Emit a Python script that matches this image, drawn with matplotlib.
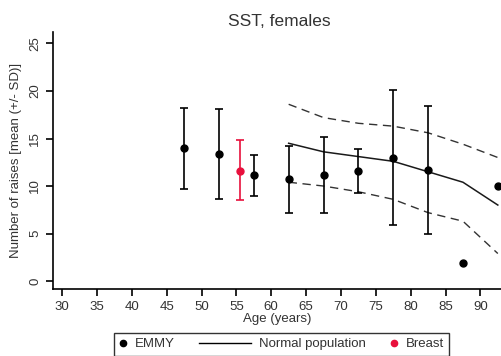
import numpy as np
import matplotlib
matplotlib.use('Agg')
import matplotlib.pyplot as plt
from matplotlib.legend_handler import HandlerLine2D

plt.rcParams['font.family'] = ['Liberation Sans', 'DejaVu Sans']

# EMMY group means and SD limits
emmy_age = [47.5, 52.5, 57.5, 62.5, 67.5, 72.5, 77.5, 82.5]
emmy_mean = [14.0, 13.4, 11.2, 10.7, 11.2, 11.6, 13.0, 11.7]
emmy_upper = [18.2, 18.1, 13.3, 14.2, 15.2, 13.9, 20.1, 18.4]
emmy_lower = [9.7, 8.6, 8.9, 7.2, 7.2, 9.3, 5.9, 5.0]

# single observations (no SD)
single_age = [87.5, 92.5]
single_val = [1.9, 10.0]

# Breast group
breast_age = [55.5]
breast_mean = [11.6]
breast_upper = [14.8]
breast_lower = [8.5]

# normal population mean and +/- SD
norm_age = [62.5, 67.5, 72.5, 77.5, 82.5, 87.5, 92.5]
norm_mean = [14.5, 13.6, 13.1, 12.6, 11.5, 10.4, 8.0]
norm_upper = [18.6, 17.2, 16.6, 16.3, 15.6, 14.4, 13.0]
norm_lower = [10.4, 10.0, 9.4, 8.6, 7.2, 6.3, 2.9]


class HandlerDot(HandlerLine2D):
    # narrow handle box so the dot sits close to its label
    def legend_artist(self, legend, orig_handle, fontsize, handlebox):
        handlebox.width = 0.6 * fontsize
        return super().legend_artist(legend, orig_handle, fontsize, handlebox)


fig = plt.figure(figsize=(5.02, 3.56), dpi=100)
ax = fig.add_axes([0.1056, 0.188, 0.8944, 0.722])

txt = '#333333'

# normal population lines
ax.plot(norm_age, norm_mean, color='#1a1a1a', lw=1.1)
ax.plot(norm_age, norm_upper, color='#333333', lw=1.0, dashes=(6, 4))
ax.plot(norm_age, norm_lower, color='#333333', lw=1.0, dashes=(6, 4))

# EMMY error bars
m = np.array(emmy_mean)
yerr = [m - np.array(emmy_lower), np.array(emmy_upper) - m]
ax.errorbar(emmy_age, emmy_mean, yerr=yerr, fmt='o', color='black', ms=5,
            elinewidth=1.2, capsize=3, capthick=1.2)
ax.plot(single_age, single_val, 'o', color='black', ms=5)

# Breast
b = np.array(breast_mean)
berr = [b - np.array(breast_lower), np.array(breast_upper) - b]
ax.errorbar(breast_age, breast_mean, yerr=berr, fmt='o', color='#e8103c', ms=5,
            elinewidth=1.2, capsize=3, capthick=1.2)

ax.set_xlim(28.7, 93.1)
ax.set_ylim(-0.84, 26.2)
ax.set_xticks(np.arange(30, 95, 5))
ax.set_yticks(np.arange(0, 30, 5))
for s in ['top', 'right']:
    ax.spines[s].set_visible(False)
for s in ['left', 'bottom']:
    ax.spines[s].set_linewidth(1.2)
ax.tick_params(direction='out', length=5, width=1.2, labelsize=9.5, labelcolor=txt)
for lab in ax.get_yticklabels():
    lab.set_rotation(90)
    lab.set_va('center')

ax.set_xlabel('Age (years)', fontsize=9.5, color=txt, labelpad=0)
ax.set_ylabel('Number of raises [mean (+/- SD)]', fontsize=9.5, color=txt, labelpad=5)
fig.text(0.556, 0.941, 'SST, females', ha='center', va='center', fontsize=12.5, color=txt)

# legend
h1 = plt.Line2D([], [], marker='o', color='black', ls='none', ms=4.5)
h2 = plt.Line2D([], [], color='black', lw=1.0)
h3 = plt.Line2D([], [], marker='o', color='#e8103c', ls='none', ms=4.5)
leg = fig.legend([h1, h2, h3], ['EMMY', 'Normal population', 'Breast'],
                 handler_map={h1: HandlerDot(), h3: HandlerDot()},
                 loc='upper center', bbox_to_anchor=(0.561, 0.065), ncol=3,
                 fontsize=9.5, frameon=True, fancybox=False, edgecolor='black',
                 handlelength=4.0, columnspacing=1.8, handletextpad=0.6,
                 borderpad=0.4, borderaxespad=0)
leg.get_frame().set_linewidth(1.0)
for t in leg.get_texts():
    t.set_color(txt)

fig.savefig('out.png', dpi=100)
